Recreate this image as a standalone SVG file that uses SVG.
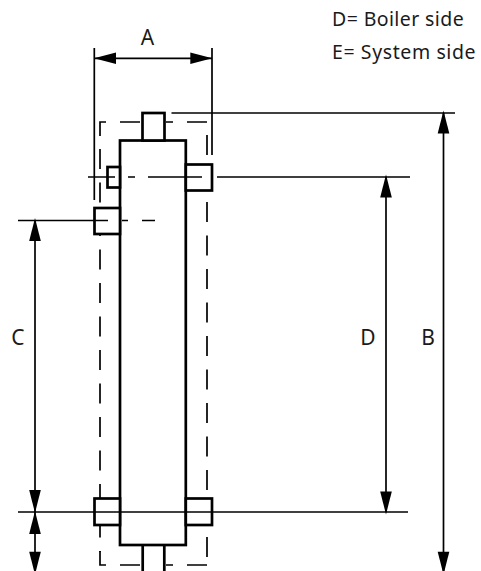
<svg xmlns="http://www.w3.org/2000/svg" width="481" height="571" viewBox="0 0 481 571">
<style>
.thick{stroke:#000;stroke-width:2.7;fill:#fff}
.open{stroke:#000;stroke-width:2.7;fill:none}
.dim{stroke:#000;stroke-width:1.7;fill:none}
.dash{stroke:#000;stroke-width:1.7;fill:none;stroke-dasharray:20 13.5}
text{font-family:"Noto Sans","Open Sans",sans-serif;fill:#1a1a1a}
.lbl{font-size:21px}
.note{font-size:19.5px}
</style>
<defs>
<path id="up" d="M0 0L5.8 23H-5.8Z" fill="#000"/>
<path id="down" d="M0 0L5.800 -23H-5.800Z" fill="#000"/>
<path id="left" d="M0 0L22 -5.700V5.700Z" fill="#000"/>
<path id="right" d="M0 0L-22 -5.700V5.700Z" fill="#000"/>
</defs>
<g id="housing-outline">
<path class="dim" d="M100 136V122H106M120 122H140M166 122H173M187 122H207"/>
<path class="dash" d="M100 149V552"/>
<path class="dash" d="M207 135V558"/>
<path class="dim" d="M100 551V565H106M120 565H140M166 565H173M187 565H207"/>
</g>
<g id="body">
<rect class="thick" x="120" y="140.500" width="65.800" height="404.500"/>
</g>
<g id="stub-top"><rect class="thick" x="142.500" y="113" width="22" height="27.500"/></g>
<g id="stub-right-upper"><rect class="thick" x="185.800" y="164.500" width="26.200" height="26"/></g>
<g id="stub-left-small"><rect class="thick" x="107.500" y="167" width="12.500" height="20.500"/></g>
<g id="stub-left-mid"><rect class="thick" x="94.500" y="208" width="25.500" height="26"/></g>
<g id="stub-left-lower"><rect class="thick" x="94.500" y="498.500" width="25.500" height="26.500"/></g>
<g id="stub-right-lower"><rect class="thick" x="185.800" y="498.500" width="26.200" height="26.500"/></g>
<g id="stub-bottom"><path class="open" d="M142.700 545V571M164.300 545V571"/></g>
<g id="connectors">
<path class="dim" d="M94.300 48V200M212 48V155"/>
<path class="dim" d="M94 58.300H212"/>
<use href="#left" x="94" y="58.300"/>
<use href="#right" x="212.300" y="58.300"/>
<path class="dim" d="M171.500 113H455"/>
<path class="dim" d="M88 177H115M128 177H135M148 177H202M217 177H410"/>
<path class="dim" d="M18 220.500H108M122 220.500H128M142 220.500H155"/>
<path class="dim" d="M18 512H408"/>
<path class="dim" d="M35 220.500V571"/>
<use href="#up" x="35" y="218"/>
<use href="#down" x="35" y="513"/>
<use href="#up" x="35" y="511"/>
<use href="#down" x="35" y="574.700"/>
<path class="dim" d="M386 177V512"/>
<use href="#up" x="386" y="174.500"/>
<use href="#down" x="386" y="514.500"/>
<path class="dim" d="M443.500 113V571"/>
<use href="#up" x="443.500" y="110.500"/>
<use href="#down" x="443.500" y="574.700"/>
</g>
<g id="labels">
<text class="lbl" x="147.500" y="45" text-anchor="middle">A</text>
<text class="lbl" x="428" y="345" text-anchor="middle">B</text>
<text class="lbl" x="18" y="345" text-anchor="middle">C</text>
<text class="lbl" x="368" y="345" text-anchor="middle">D</text>
<text class="note" x="332" y="26" letter-spacing="0.4">D= Boiler side</text>
<text class="note" x="332" y="59" letter-spacing="0.6">E= System side</text>
</g>
</svg>
